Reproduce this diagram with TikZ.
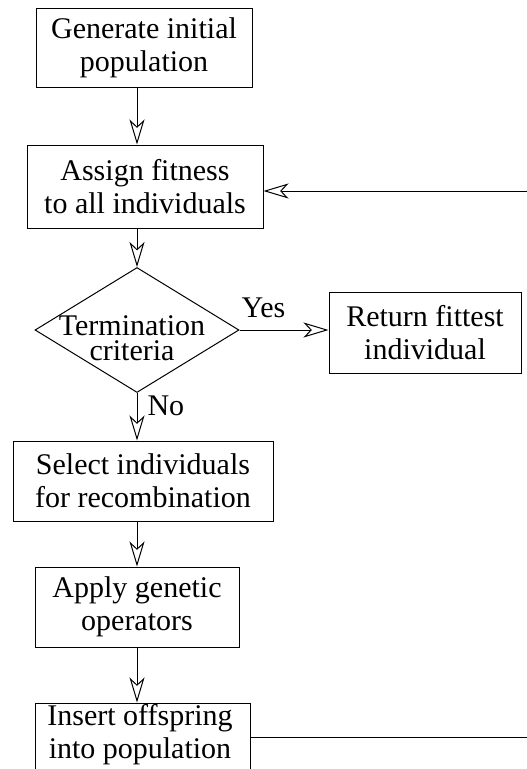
\documentclass[tikz,border=0pt]{standalone}
\usepackage{fontspec}
\setmainfont{Liberation Serif}
\usetikzlibrary{shapes.geometric,arrows.meta}
\tikzset{
  stepbox/.style={draw, rectangle, line width=1pt, inner sep=0pt, align=center,
    font=\fontsize{30}{33}\selectfont},
  decision/.style={draw, diamond, line width=1pt, inner sep=0pt, aspect=1},
  lbl/.style={font=\fontsize{30}{33}\selectfont, align=center, inner sep=0pt},
  tight/.style={font=\fontsize{30}{25}\selectfont, align=center, inner sep=0pt},
  flow/.style={line width=1pt, -{Stealth[open, length=25pt, width=15pt, inset=7pt]}},
  plain/.style={line width=1pt}
}
\begin{document}
\begin{tikzpicture}[x=1pt, y=-1pt]
  \useasboundingbox (0,0) rectangle (527,769);
  \clip (0,0) rectangle (527,769);

  % process steps
  \node[stepbox, minimum width=216pt, minimum height=79pt] (gen) at (144,47.5)
    {Generate initial\\population};
  \node[stepbox, minimum width=236pt, minimum height=83pt] (fit) at (145,186.5)
    {Assign fitness\\to all individuals};
  \node[decision, minimum width=204pt, minimum height=125pt] (term) at (137,330) {};
  \node[tight] (termtxt) at (132,338) {Termination\\criteria};
  \node[stepbox, minimum width=192pt, minimum height=81pt] (ret) at (425,332.5)
    {Return fittest\\individual};
  \node[stepbox, minimum width=260pt, minimum height=80pt] (sel) at (143,481)
    {Select individuals\\for recombination};
  \node[stepbox, minimum width=204pt, minimum height=80pt] (app) at (137,607)
    {Apply genetic\\operators};
  \node[stepbox, minimum width=215pt, minimum height=80pt] (ins) at (142.5,743) {};
  \node[lbl] (instxt) at (140,735) {Insert offspring\\into population};

  % loop corners, outside the visible area on the right
  \coordinate (loopin) at (545,191);
  \coordinate (loopout) at (545,737);

  % main flow
  \draw[flow] (gen.south -| term.north) -- (fit.north -| term.north);
  \draw[flow] (fit.south -| term.north) -- (term.north);
  \draw[flow] (term.east) -- node[lbl, above=12pt, pos=0.27] (yes) {Yes} (ret.west |- term.east);
  \draw[flow] (term.south) -- node[lbl, right=10pt, pos=0.26] (no) {No} (sel.north -| term.south);
  \draw[flow] (sel.south -| term.south) -- (app.north -| term.south);
  \draw[flow] (app.south -| term.south) -- (ins.north -| term.south);

  % feedback loop
  \draw[plain] (ins.east |- loopout) -- (loopout) -- (loopin);
  \draw[flow] (loopin) -- (fit.east |- loopin);
\end{tikzpicture}
\end{document}
